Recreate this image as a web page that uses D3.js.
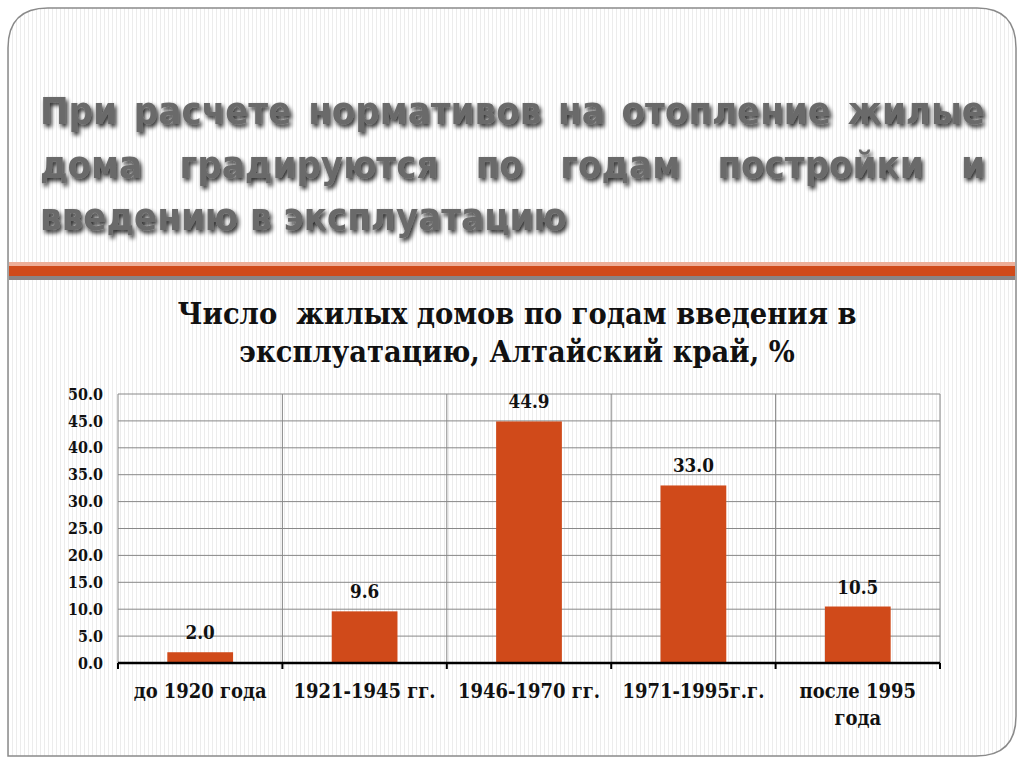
<!DOCTYPE html>
<html><head><meta charset="utf-8">
<script src="https://cdn.jsdelivr.net/npm/d3@7"></script>
<style>body{margin:0;background:#fff}svg{display:block}</style>
</head><body>
<script>
const categories = [["до 1920 года"], ["1921-1945 гг."], ["1946-1970 гг."], ["1971-1995г.г."], ["после 1995", "года"]];
const values = [2.0, 9.6, 44.9, 33.0, 10.5];
const yTicks = [0, 5, 10, 15, 20, 25, 30, 35, 40, 45, 50];
const titleLines = ["При расчете нормативов на отопление жилые", "дома градируются по годам постройки и", "введению в эксплуатацию"];
const chartTitle = ["Число  жилых домов по годам введения в", "эксплуатацию, Алтайский край, %"];

const W = 1024, H = 768;
const svg = d3.select("body").append("svg").attr("width", W).attr("height", H);
const defs = svg.append("defs");
const pat = defs.append("pattern").attr("id", "stripes").attr("width", 4).attr("height", 4).attr("patternUnits", "userSpaceOnUse");
pat.append("rect").attr("width", 4).attr("height", 4).attr("fill", "#fff");
pat.append("rect").attr("width", 1).attr("height", 4).attr("fill", "#ececec");
const sh = defs.append("filter").attr("id", "shadow").attr("x", "-5%").attr("y", "-20%").attr("width", "110%").attr("height", "150%");
sh.append("feGaussianBlur").attr("in", "SourceAlpha").attr("stdDeviation", 2).attr("result", "b");
sh.append("feOffset").attr("in", "b").attr("dx", 2).attr("dy", 3).attr("result", "o");
sh.append("feComponentTransfer").attr("in", "o").attr("result", "o2").append("feFuncA").attr("type", "linear").attr("slope", 0.85);
const m = sh.append("feMerge"); m.append("feMergeNode").attr("in", "o2"); m.append("feMergeNode").attr("in", "SourceGraphic");

// helper: measure text width at a given font
function measure(txt, family, size) {
  const t = svg.append("text").attr("font-family", family).attr("font-weight", "bold").attr("font-size", size).style("white-space", "pre").text(txt);
  const w = t.node().getComputedTextLength(); t.remove(); return w;
}

// slide frame
svg.append("path")
  .attr("d", "M8,48 Q8,8 48,8 L977,8 Q1016,8 1016,48 L1016,716 Q1016,756 976,756 L8,756 Z")
  .attr("fill", "url(#stripes)").attr("stroke", "#8a8a8a").attr("stroke-width", 1.5);

// title (justified by word spacing)
const tfont = "'DejaVu Sans Condensed','DejaVu Sans',sans-serif";
const tsize = 38;
const tg = svg.append("g").attr("filter", "url(#shadow)");
const tYs = [124, 178, 230];
titleLines.forEach((t, i) => {
  const words = t.split(" ");
  const ws = words.map(w => measure(w, tfont, tsize));
  const spaceW = measure("a a", tfont, tsize) - measure("aa", tfont, tsize);
  const gap = i < 2 ? (945 - d3.sum(ws)) / (words.length - 1) : spaceW;
  let cx = 40;
  words.forEach((w, k) => {
    tg.append("text").attr("x", cx).attr("y", tYs[i]).text(w)
      .attr("font-family", tfont).attr("font-weight", "bold").attr("font-size", tsize).attr("fill", "#6b6b6b");
    cx += ws[k] + gap;
  });
});

// stripes
svg.append("rect").attr("x", 9).attr("y", 262).attr("width", 1006).attr("height", 5).attr("fill", "#eeae98");
svg.append("rect").attr("x", 9).attr("y", 266).attr("width", 1006).attr("height", 10).attr("fill", "#d04a1a");
svg.append("rect").attr("x", 9).attr("y", 276).attr("width", 1006).attr("height", 4).attr("fill", "#8c8484");

// serif font sized to reference widths
const sfont = "'DejaVu Serif Condensed','DejaVu Serif',serif";
const ctSize = 26 * 679 / measure(chartTitle[0], sfont, 26);
const xlSize = 18 * 142 / measure("1921-1945 гг.", sfont, 18);
const ylSize = 15 * 35 / measure("50.0", sfont, 15);
const vlSize = 18 * 41 / measure("33.0", sfont, 18);

// chart title
chartTitle.forEach((t, i) => {
  svg.append("text").attr("x", 517).attr("y", 324 + i * 38).attr("text-anchor", "middle").text(t)
    .attr("font-family", sfont).attr("font-weight", "bold").attr("font-size", ctSize).attr("fill", "#111").style("white-space", "pre");
});

// chart
const x = d3.scaleBand().domain(d3.range(categories.length)).range([118, 940]).paddingInner(0).paddingOuter(0);
const y = d3.scaleLinear().domain([0, 50]).range([663, 394]);
const g = svg.append("g");

g.selectAll(".hg").data(yTicks.slice(1)).join("line")
  .attr("x1", 118).attr("x2", 940).attr("y1", d => y(d)).attr("y2", d => y(d))
  .attr("stroke", "#888").attr("stroke-width", 1);
const bounds = d3.range(categories.length + 1).map(i => 118 + i * x.bandwidth());
g.selectAll(".vg").data(bounds).join("line")
  .attr("x1", d => d).attr("x2", d => d).attr("y1", y(50)).attr("y2", y(0))
  .attr("stroke", "#888").attr("stroke-width", 1);

const yAxis = d3.axisLeft(y).tickValues(yTicks).tickFormat(d3.format(".1f")).tickSize(0).tickPadding(15);
const ya = g.append("g").attr("transform", "translate(118,0)").call(yAxis);
ya.select(".domain").remove();
ya.selectAll("text").attr("font-family", sfont).attr("font-weight", "bold").attr("font-size", ylSize).attr("fill", "#111");

const bw = x.bandwidth() * 0.4;
g.selectAll(".bar").data(values).join("rect")
  .attr("x", (d, i) => x(i) + (x.bandwidth() - bw) / 2).attr("width", bw)
  .attr("y", d => y(d)).attr("height", d => y(0) - y(d)).attr("fill", "#d04a1a");

g.selectAll(".vl").data(values).join("text")
  .attr("x", (d, i) => x(i) + x.bandwidth() / 2).attr("y", d => y(d) - 13)
  .attr("text-anchor", "middle").text(d => d3.format(".1f")(d))
  .attr("font-family", sfont).attr("font-weight", "bold").attr("font-size", vlSize).attr("fill", "#111");

g.append("line").attr("x1", 118).attr("x2", 940).attr("y1", y(0)).attr("y2", y(0)).attr("stroke", "#000").attr("stroke-width", 2.5);
g.selectAll(".tk").data(bounds).join("line")
  .attr("x1", d => d).attr("x2", d => d).attr("y1", y(0)).attr("y2", y(0) + 6).attr("stroke", "#000").attr("stroke-width", 2);
categories.forEach((lines, i) => {
  lines.forEach((t, j) => {
    g.append("text").attr("x", x(i) + x.bandwidth() / 2).attr("y", 698 + j * 27).attr("text-anchor", "middle").text(t)
      .attr("font-family", sfont).attr("font-weight", "bold").attr("font-size", xlSize).attr("fill", "#111");
  });
});
</script>
</body></html>
